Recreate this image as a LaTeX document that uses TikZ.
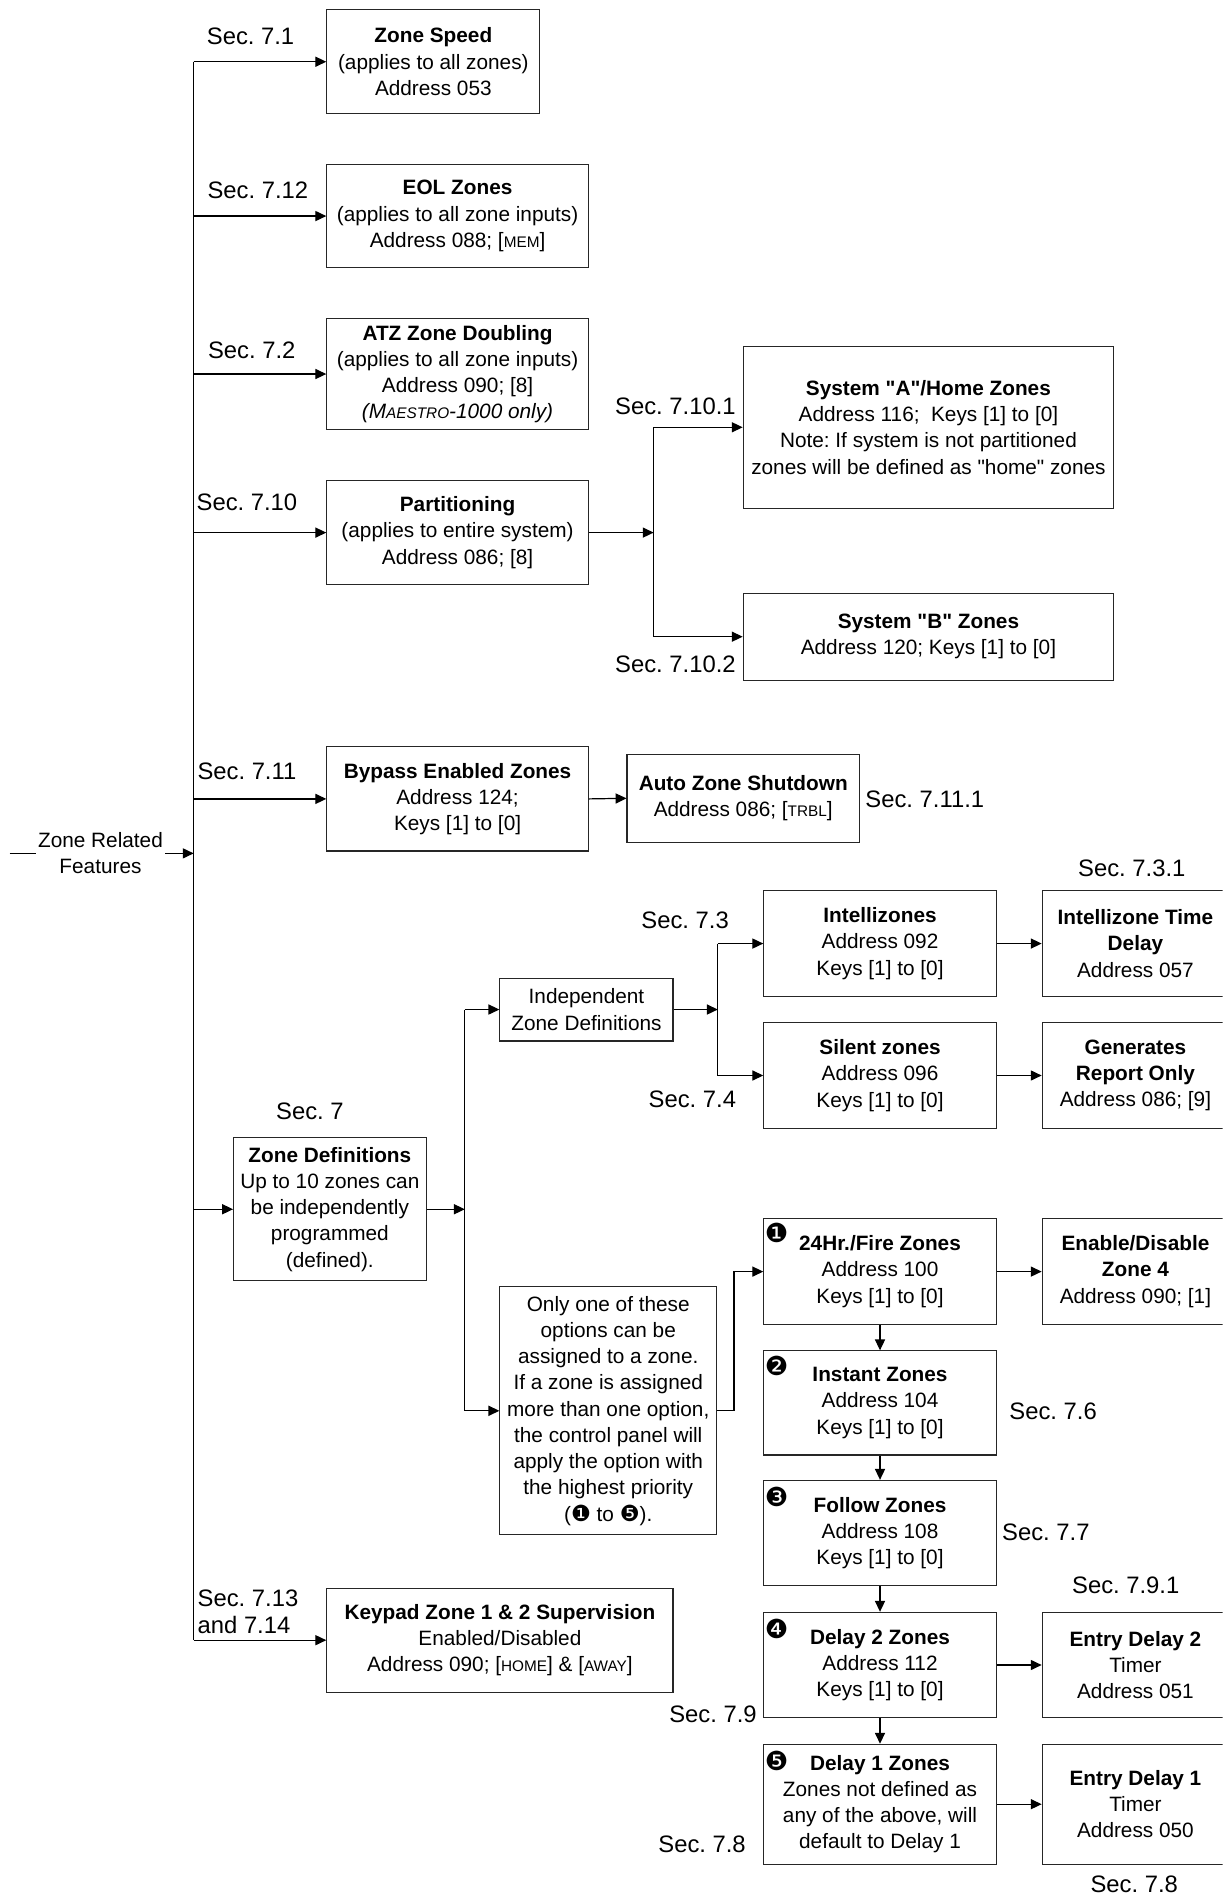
\documentclass[tikz,border=0pt]{standalone}
\usepackage{fontspec}
\setmainfont{Liberation Sans}
\newfontfamily\dingfont{DejaVu Sans}
\usetikzlibrary{arrows.meta}

\newcommand{\smc}[1]{{\fontsize{7.6}{9}\selectfont #1}}
\newcommand{\dng}[1]{{\dingfont\fontsize{11}{9}\selectfont #1}}
\newcommand{\qt}{\textquotedbl}

\begin{document}
\frenchspacing
\begin{tikzpicture}[x=0.6pt,y=-0.6pt,
  box/.style={draw=black!85,line width=0.55pt,align=center,inner sep=1pt,
    font=\fontsize{10.3}{13}\selectfont},
  txt/.style={align=center,inner sep=1pt,font=\fontsize{10.3}{13}\selectfont},
  sec/.style={inner sep=0pt,font=\fontsize{11.8}{13.8}\selectfont},
  ln/.style={line width=0.6pt},
  arr/.style={line width=0.6pt,-{Triangle[length=5.4pt,width=5pt]}},
  badge/.style={inner sep=0pt,font=\dingfont\fontsize{13}{13}\selectfont}]
\useasboundingbox (0,0) rectangle (1010,1568);
\clip (0,0) rectangle (1010,1568);

% left column
\node[txt] (zrf) at (83,705) {Zone Related\\Features};
\coordinate (zin) at (8,705);
\coordinate (trunk) at (160,0);
\node[box,minimum width=105.6pt,minimum height=51.6pt] (zspeed) at (358,51)
  {\textbf{Zone Speed}\\(applies to all zones)\\Address 053};
\node[box,minimum width=129.6pt,minimum height=51pt] (eol) at (378,178.5)
  {\textbf{EOL Zones}\\(applies to all zone inputs)\\Address 088; [\smc{MEM}]};
\node[box,minimum width=129.6pt,minimum height=55.2pt] (atz) at (378,309)
  {\textbf{ATZ Zone Doubling}\\(applies to all zone inputs)\\Address 090; [8]\\
   \textit{(M\smc{AESTRO}-1000 only)}};
\node[box,minimum width=129.6pt,minimum height=51.6pt] (part) at (378,440)
  {\textbf{Partitioning}\\(applies to entire system)\\Address 086; [8]};
\node[box,minimum width=129.6pt,minimum height=51.6pt] (bypass) at (378,660)
  {\textbf{Bypass Enabled Zones}\\Address 124;\\Keys [1] to [0]};
\node[box,minimum width=95.4pt,minimum height=70.8pt] (zdef) at (272.5,999)
  {\textbf{Zone Definitions}\\Up to 10 zones can\\be independently\\programmed\\(defined).};
\node[box,minimum width=171.6pt,minimum height=51.6pt] (keypad) at (413,1355)
  {\textbf{Keypad Zone 1 \& 2 Supervision}\\Enabled/Disabled\\
   Address 090; [\smc{HOME}] \& [\smc{AWAY}]};

% partitions
\coordinate (pbr) at (540,0);
\node[box,minimum width=183.6pt,minimum height=80.4pt] (sysa) at (767,353)
  {\textbf{System \qt A\qt/Home Zones}\\Address 116;\ \ Keys [1] to [0]\\
   Note: If system is not partitioned\\zones will be defined as \qt home\qt{} zones};
\node[box,minimum width=183.6pt,minimum height=43.2pt] (sysb) at (767,526)
  {\textbf{System \qt B\qt{} Zones}\\Address 120; Keys [1] to [0]};
\node[box,minimum width=115.2pt,minimum height=43.8pt] (auto) at (614,659.5)
  {\textbf{Auto Zone Shutdown}\\Address 086; [\smc{TRBL}]};

% independent definitions
\coordinate (zbr) at (384,0);
\coordinate (ibr) at (593,0);
\node[box,minimum width=85.8pt,minimum height=31.2pt] (indep) at (484.5,834)
  {Independent\\Zone Definitions};
\node[box,minimum width=115.2pt,minimum height=52.2pt] (intelli) at (727,779.5)
  {\textbf{Intellizones}\\Address 092\\Keys [1] to [0]};
\node[box,minimum width=92.4pt,minimum height=52.2pt] (itd) at (938,779.5)
  {\textbf{Intellizone Time}\\\textbf{Delay}\\Address 057};
\node[box,minimum width=115.2pt,minimum height=52.2pt] (silent) at (727,888.5)
  {\textbf{Silent zones}\\Address 096\\Keys [1] to [0]};
\node[box,minimum width=92.4pt,minimum height=52.2pt] (genrep) at (938,888.5)
  {\textbf{Generates}\\\textbf{Report Only}\\Address 086; [9]};

% priority options
\node[box,minimum width=107.4pt,minimum height=123pt] (onlyone) at (502.5,1165.5)
  {Only one of these\\options can be\\assigned to a zone.\\If a zone is assigned\\
   more than one option,\\the control panel will\\apply the option with\\
   the highest priority\\(\dng{❶} to \dng{❺}).};
\node[box,minimum width=115.2pt,minimum height=52.2pt] (fire) at (727,1050.5)
  {\textbf{24Hr./Fire Zones}\\Address 100\\Keys [1] to [0]};
\node[box,minimum width=92.4pt,minimum height=52.2pt] (enable) at (938,1050.5)
  {\textbf{Enable/Disable}\\\textbf{Zone 4}\\Address 090; [1]};
\node[box,minimum width=115.2pt,minimum height=51.6pt] (instant) at (727,1159)
  {\textbf{Instant Zones}\\Address 104\\Keys [1] to [0]};
\node[box,minimum width=115.2pt,minimum height=52.2pt] (follow) at (727,1266.5)
  {\textbf{Follow Zones}\\Address 108\\Keys [1] to [0]};
\node[box,minimum width=115.2pt,minimum height=52.2pt] (delay2) at (727,1375.5)
  {\textbf{Delay 2 Zones}\\Address 112\\Keys [1] to [0]};
\node[box,minimum width=92.4pt,minimum height=52.2pt] (ed2) at (938,1375.5)
  {\textbf{Entry Delay 2}\\Timer\\Address 051};
\node[box,minimum width=115.2pt,minimum height=59.4pt] (delay1) at (727,1490.5)
  {\textbf{Delay 1 Zones}\\Zones not defined as\\any of the above, will\\default to Delay 1};
\node[box,minimum width=92.4pt,minimum height=59.4pt] (ed1) at (938,1490.5)
  {\textbf{Entry Delay 1}\\Timer\\Address 050};

\node[badge] (b1) at ([xshift=6.6pt,yshift=-7.4pt]fire.north west) {❶};
\node[badge] (b2) at ([xshift=6.6pt,yshift=-7.8pt]instant.north west) {❷};
\node[badge] (b3) at ([xshift=6.6pt,yshift=-8.4pt]follow.north west) {❸};
\node[badge] (b4) at ([xshift=6.6pt,yshift=-8.4pt]delay2.north west) {❹};
\node[badge] (b5) at ([xshift=6.6pt,yshift=-8.4pt]delay1.north west) {❺};

% section labels
\node[sec] (s1) at (207,30) {Sec. 7.1};
\node[sec] (s12) at (213,157) {Sec. 7.12};
\node[sec] (s2) at (208,289) {Sec. 7.2};
\node[sec] (s10) at (204,415) {Sec. 7.10};
\node[sec] (s101) at (558,336) {Sec. 7.10.1};
\node[sec] (s102) at (558,549) {Sec. 7.10.2};
\node[sec] (s11) at (204,637) {Sec. 7.11};
\node[sec] (s111) at (764,660) {Sec. 7.11.1};
\node[sec] (s31) at (935,717) {Sec. 7.3.1};
\node[sec] (s3) at (566,760) {Sec. 7.3};
\node[sec] (s4) at (572,908) {Sec. 7.4};
\node[sec] (s7) at (256,918) {Sec. 7};
\node[sec] (s6) at (870,1166) {Sec. 7.6};
\node[sec] (s77) at (864,1266) {Sec. 7.7};
\node[sec] (s91) at (930,1310) {Sec. 7.9.1};
\node[sec,align=left,anchor=west] (s13) at (163,1331.5) {Sec. 7.13\\and 7.14};
\node[sec] (s9) at (589,1416) {Sec. 7.9};
\node[sec] (s8) at (580,1524) {Sec. 7.8};
\node[sec] (s8b) at (937,1557) {Sec. 7.8};

% connectors
\draw[ln] (zin) -- (zrf.west);
\draw[arr] (zrf.east) -- (zrf.east -| trunk);
\draw[ln] (zspeed.west -| trunk) -- (keypad.west -| trunk);
\foreach \n in {zspeed,eol,atz,part,bypass,zdef,keypad}
  \draw[arr] (\n.west -| trunk) -- (\n.west);

\draw[arr] (part.east) -- (part.east -| pbr);
\draw[ln] (sysa.west -| pbr) -- (sysb.west -| pbr);
\draw[arr] (sysa.west -| pbr) -- (sysa.west);
\draw[arr] (sysb.west -| pbr) -- (sysb.west);
\draw[arr] (bypass.east) -- (auto.west);

\draw[arr] (zdef.east) -- (zdef.east -| zbr);
\draw[ln] (indep.west -| zbr) -- (onlyone.west -| zbr);
\draw[arr] (indep.west -| zbr) -- (indep.west);
\draw[arr] (onlyone.west -| zbr) -- (onlyone.west);

\draw[arr] (indep.east) -- (indep.east -| ibr);
\draw[ln] (intelli.west -| ibr) -- (silent.west -| ibr);
\draw[arr] (intelli.west -| ibr) -- (intelli.west);
\draw[arr] (silent.west -| ibr) -- (silent.west);
\draw[arr] (intelli.east) -- (itd.west);
\draw[arr] (silent.east) -- (genrep.west);

\draw[arr] (onlyone.east) -- ++(14,0) |- (fire.west);
\draw[arr] (fire.east) -- (enable.west);
\draw[arr] (fire.south) -- (instant.north);
\draw[arr] (instant.south) -- (follow.north);
\draw[arr] (follow.south) -- (delay2.north);
\draw[arr] (delay2.south) -- (delay1.north);
\draw[arr] (delay2.east) -- (ed2.west);
\draw[arr] (delay1.east) -- (ed1.west);
\end{tikzpicture}
\end{document}
